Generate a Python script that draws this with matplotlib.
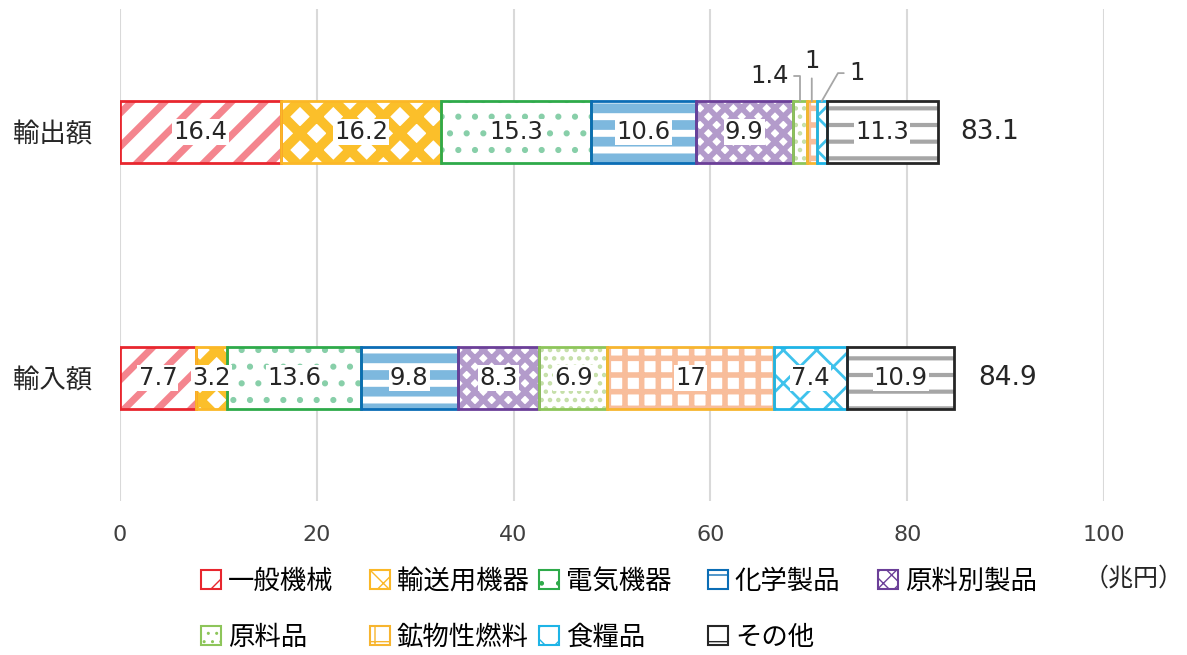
import matplotlib
matplotlib.use("Agg")
import matplotlib.pyplot as plt
from matplotlib.patches import Patch
import numpy as np

# DejaVu for digits (wide, like the reference), Noto CJK for Japanese text
plt.rcParams['font.family'] = ['DejaVu Sans', 'Noto Sans CJK JP']
JP = ['Noto Sans CJK JP', 'DejaVu Sans']

rows = ["輸出額", "輸入額"]
items = ["一般機械", "輸送用機器", "電気機器", "化学製品", "原料別製品",
         "原料品", "鉱物性燃料", "食糧品", "その他"]
export_vals = [16.4, 16.2, 15.3, 10.6, 9.9, 1.4, 1, 1, 11.3]
import_vals = [7.7, 3.2, 13.6, 9.8, 8.3, 6.9, 17, 7.4, 10.9]
totals = [83.1, 84.9]

edge_colors = ["#E8262E", "#FBB827", "#2EAA4A", "#0B6DB5", "#6B3F98",
               "#8DC55A", "#F7B52F", "#1EB4E6", "#262626"]
hatch_colors = ["#F4858E", "#FBBF2A", "#88CFA9", "#7DB8DE", "#B39BCB",
                "#C5DFA8", "#F8BD9B", "#3FC2EC", "#A6A6A6"]
hatches = ["/", "x", ".", "-", "xx", "..", "+", "x", "-"]
hatch_lw = [5, 7, 2, 7, 4, 2, 4, 2, 3]

fig = plt.figure(figsize=(11.87, 6.55), dpi=100)
ax = fig.add_axes([0.1011, 0.235, 0.829, 0.751])

y = np.arange(len(rows))
data = np.array([export_vals, import_vals])
left = np.zeros(len(rows))
for i, name in enumerate(items):
    w = data[:, i]
    with plt.rc_context({'hatch.linewidth': hatch_lw[i]}):
        ax.barh(y, w, left=left, height=0.25, color="white", hatch=hatches[i],
                edgecolor=hatch_colors[i], linewidth=0, zorder=2)
    ax.barh(y, w, left=left, height=0.25, fill=False, edgecolor=edge_colors[i],
            linewidth=2, zorder=3)
    for r in range(len(rows)):
        if w[r] >= 3:
            ax.text(left[r] + w[r] / 2, y[r], f"{w[r]:g}", ha="center", va="center",
                    fontsize=17.5, color="#262626", zorder=4,
                    bbox=dict(boxstyle="square,pad=0.05", fc="white", ec="none"))
    left += w

# small segment labels with leader lines (export row)
small = [(5, 66.0, -0.23, (1, 0.5), "angle,angleA=0,angleB=90"),
         (6, 70.3, -0.29, (0.5, 0), "arc3"),
         (7, 74.9, -0.24, (0, 0.5), "angle,angleA=180,angleB=60")]
cum = np.cumsum([0] + export_vals)
for idx, tx, ty, rp, cs in small:
    xc = cum[idx] + export_vals[idx] / 2
    ax.annotate(f"{export_vals[idx]:g}", xy=(xc, -0.125), xytext=(tx, ty),
                ha="center", va="center", fontsize=17.5, color="#262626",
                arrowprops=dict(arrowstyle="-", color="#A6A6A6", lw=1.3,
                                relpos=rp, connectionstyle=cs,
                                shrinkA=2, shrinkB=0))

for r, t in enumerate(totals):
    ax.text(t + 2.3, y[r], f"{t:g}", ha="left", va="center", fontsize=19,
            color="#262626")

ax.set_xlim(0, 100)
ax.set_ylim(-0.5, 1.5)
ax.invert_yaxis()
ax.set_yticks(y)
ax.set_yticklabels(rows, fontsize=19, color="#262626", family=JP)
ax.set_xticks(np.arange(0, 101, 20))
ax.tick_params(axis="x", labelsize=16, colors="#404040", length=0, pad=17)
ax.tick_params(axis="y", length=0, pad=20)
ax.xaxis.grid(True, color="#D9D9D9", linewidth=1.5, zorder=0)
ax.set_axisbelow(True)
for s in ax.spines.values():
    s.set_visible(False)

# legend: one small legend per column so columns sit at even spacing
handles = [Patch(facecolor="white", edgecolor=edge_colors[i], hatch=hatches[i],
                 linewidth=1.5, label=items[i]) for i in range(len(items))]
columns = [[0, 5], [1, 6], [2, 7], [3, 8], [4]]
col_x = [201, 370, 539, 708, 878]
for cols, xp in zip(columns, col_x):
    fig.legend([handles[i] for i in cols], [items[i] for i in cols],
               loc="upper left", bbox_to_anchor=(xp / 1187, 1 - 568 / 655),
               frameon=False, borderpad=0, borderaxespad=0,
               prop={'family': JP, 'size': 19}, handlelength=0.75,
               handleheight=0.75, handletextpad=0.27, labelspacing=1.1)
fig.text(1184 / 1187, 1 - 579 / 655, "（兆円）", ha="right", va="center",
         fontsize=18, color="#262626", family=JP)

fig.savefig("out.png", dpi=100)
